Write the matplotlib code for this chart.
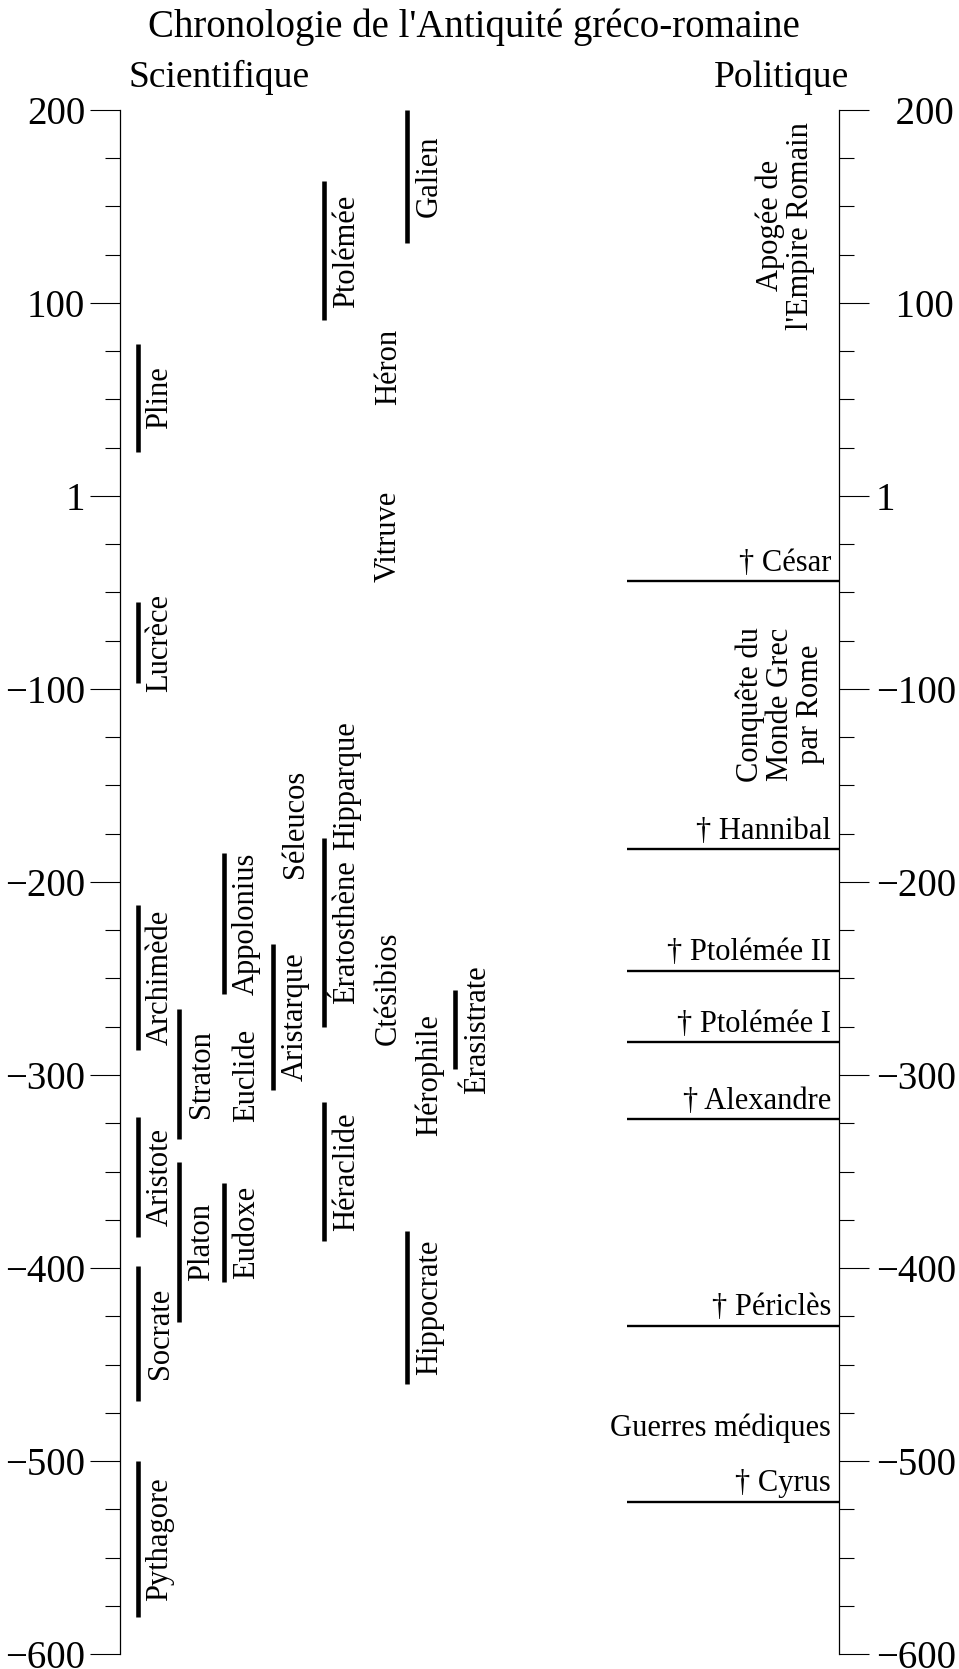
import matplotlib
matplotlib.use('Agg')
import matplotlib.pyplot as plt

plt.rcParams['font.family'] = ['Liberation Serif', 'DejaVu Serif']

# Scientifiques : dates de vie (barre + nom)
bar_names = ['Pline', 'Lucrèce', 'Archimède', 'Aristote', 'Socrate', 'Pythagore',
             'Straton', 'Platon',
             'Appolonius', 'Eudoxe',
             'Aristarque',
             'Ptolémée', 'Ératosthène', 'Héraclide',
             'Galien', 'Hippocrate',
             'Érasistrate']
bar_start = [23, -97, -287, -384, -469, -581,
             -333, -428,
             -258, -407,
             -308,
             91, -275, -386,
             131, -460,
             -297]
bar_end = [79, -55, -212, -322, -399, -500,
           -266, -345,
           -185, -356,
           -232,
           163, -177, -314,
           200, -381,
           -256]
bar_lane = [0, 0, 0, 0, 0, 0, 1, 1, 2, 2, 3, 4, 4, 4, 6, 6, 7]

# Scientifiques sans barre (nom seul)
text_names = ['Euclide', 'Séleucos', 'Hipparque', 'Héron', 'Vitruve', 'Ctésibios', 'Hérophile']
text_year = [-300, -170, -150, 67, -21, -255, -300]
text_lane = [2, 3, 4, 5, 5, 5, 6]

# Politique
event_names = ['† César', '† Hannibal', '† Ptolémée II', '† Ptolémée I',
               '† Alexandre', '† Périclès', '† Cyrus']
event_year = [-44, -183, -246, -283, -323, -430, -521]
period_names = ["Apogée de\nl'Empire Romain", 'Conquête du\nMonde Grec\npar Rome']
period_year = [140, -108]
war_name = 'Guerres médiques'
war_year = -487

major_ticks = [200, 100, 0, -100, -200, -300, -400, -500, -600]
left_labels = ['200', '100', '1', '−100', '−200', '−300', '−400', '−500', '−600']
right_labels = ['\u2007200', '\u2007100', '1', '−100', '−200', '−300', '−400', '−500', '−600']
minor_ticks = list(range(-575, 200, 25))

# mise en page (x en pixels depuis l'axe de gauche)
lane_x = [17.5, 59, 104, 153, 204, 246, 287, 335]
label_dx = 30
event_x0 = 507
event_xtext = 711
period_x = [665, 660]

fig = plt.figure(figsize=(9.59, 16.69), dpi=100)
ax = fig.add_axes([120 / 959, 1 - 1654 / 1669, 719 / 959, 1544 / 1669])
ax.set_xlim(0, 719)
ax.set_ylim(-600, 200)

for name, s, e, lane in zip(bar_names, bar_start, bar_end, bar_lane):
    x = lane_x[lane]
    ax.plot([x, x], [s, e], color='black', lw=3.3, solid_capstyle='butt')
    ax.text(x + label_dx, (s + e) / 2, name, rotation=90, rotation_mode='anchor',
            ha='center', va='baseline', fontsize=22)

for name, yr, lane in zip(text_names, text_year, text_lane):
    ax.text(lane_x[lane] + label_dx, yr, name, rotation=90, rotation_mode='anchor',
            ha='center', va='baseline', fontsize=22)

for name, yr in zip(event_names, event_year):
    ax.plot([event_x0, 719], [yr, yr], color='black', lw=1.7, solid_capstyle='butt')
    ax.annotate(name, (event_xtext, yr), xytext=(0, 7.5), textcoords='offset points',
                ha='right', va='baseline', fontsize=22)

for name, yr, x in zip(period_names, period_year, period_x):
    ax.text(x, yr, name, rotation=90, rotation_mode='anchor', ha='center', va='center',
            multialignment='center', fontsize=22, linespacing=1.05)

ax.text(event_xtext, war_year, war_name, ha='right', va='baseline', fontsize=22)

# axe gauche
for side in ['top', 'bottom', 'right']:
    ax.spines[side].set_visible(False)
ax.spines['left'].set_linewidth(0.9)
ax.set_xticks([])
ax.set_yticks(major_ticks)
ax.set_yticklabels(left_labels)
ax.set_yticks(minor_ticks, minor=True)
ax.tick_params(axis='y', which='major', length=21.5, width=0.8, pad=3.6, labelsize=28)
ax.tick_params(axis='y', which='minor', length=10.5, width=0.8)

# axe droit
ax2 = ax.twinx()
ax2.set_ylim(-600, 200)
for side in ['top', 'bottom', 'left']:
    ax2.spines[side].set_visible(False)
ax2.spines['right'].set_linewidth(0.9)
ax2.set_yticks(major_ticks)
ax2.set_yticklabels(right_labels)
ax2.set_yticks(minor_ticks, minor=True)
ax2.tick_params(axis='y', which='major', length=21.5, width=0.8, pad=5, labelsize=28)
ax2.tick_params(axis='y', which='minor', length=10.5, width=0.8)

fig.text(0.4937, 1 - 36.5 / 1669, "Chronologie de l'Antiquité gréco-romaine",
         ha='center', va='baseline', fontsize=28)
fig.text(219 / 959, 1 - 87 / 1669, 'Scientifique', ha='center', va='baseline', fontsize=27)
fig.text(781 / 959, 1 - 87 / 1669, 'Politique', ha='center', va='baseline', fontsize=27)

fig.savefig('out.png', dpi=100)
